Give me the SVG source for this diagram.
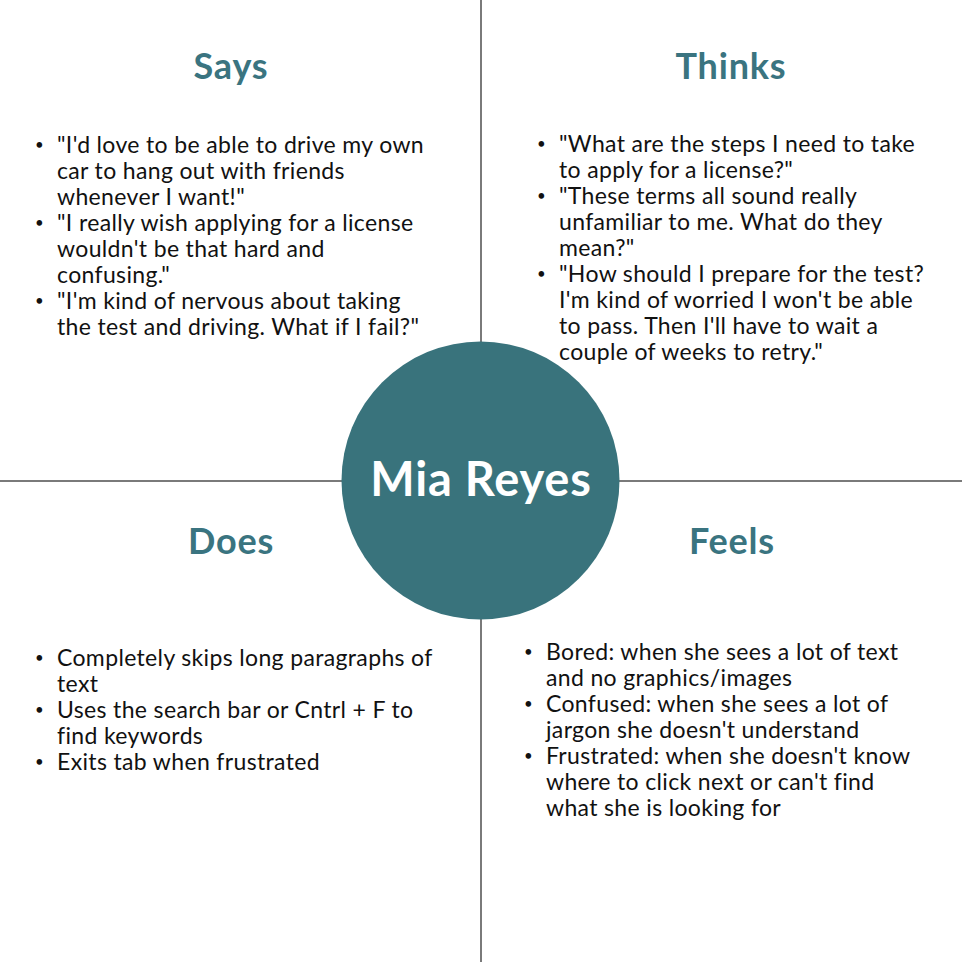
<svg xmlns="http://www.w3.org/2000/svg" width="962" height="962" viewBox="0 0 962 962">
  <style>
    .axis { stroke: #7a7a7a; stroke-width: 2; fill: none; }
    .head { font-family: Lato, "Liberation Sans", sans-serif; font-weight: 700; font-size: 36px; letter-spacing: 0.8px; fill: #3a7480; text-anchor: middle; }
    .body { font-family: Lato, "Liberation Sans", sans-serif; font-size: 23px; letter-spacing: 0.35px; fill: #111111; }
    .dot { font-size: 15px; }
    .name { font-family: Lato, "Liberation Sans", sans-serif; font-weight: 700; font-size: 47px; letter-spacing: 0.8px; fill: #ffffff; text-anchor: middle; }
  </style>
  <rect width="962" height="962" fill="#ffffff"/>

  <!-- quadrant dividers -->
  <g id="connectors">
    <line class="axis" x1="481" y1="0" x2="481" y2="962"/>
    <line class="axis" x1="0" y1="481" x2="962" y2="481"/>
  </g>

  <g id="says">
    <text class="head" x="231" y="79">Says</text>
    <text class="body">
      <tspan class="dot" x="35" y="150">•</tspan><tspan x="57" y="153">"I'd love to be able to drive my own</tspan>
      <tspan x="57" y="179">car to hang out with friends</tspan>
      <tspan x="57" y="205">whenever I want!"</tspan>
      <tspan class="dot" x="35" y="228">•</tspan><tspan x="57" y="231">"I really wish applying for a license</tspan>
      <tspan x="57" y="257">wouldn't be that hard and</tspan>
      <tspan x="57" y="283">confusing."</tspan>
      <tspan class="dot" x="35" y="306">•</tspan><tspan x="57" y="309">"I'm kind of nervous about taking</tspan>
      <tspan x="57" y="335">the test and driving. What if I fail?"</tspan>
    </text>
  </g>

  <g id="thinks">
    <text class="head" x="731" y="79">Thinks</text>
    <text class="body">
      <tspan class="dot" x="537" y="149">•</tspan><tspan x="559" y="152">"What are the steps I need to take</tspan>
      <tspan x="559" y="178">to apply for a license?"</tspan>
      <tspan class="dot" x="537" y="201">•</tspan><tspan x="559" y="204">"These terms all sound really</tspan>
      <tspan x="559" y="230">unfamiliar to me. What do they</tspan>
      <tspan x="559" y="256">mean?"</tspan>
      <tspan class="dot" x="537" y="279">•</tspan><tspan x="559" y="282">"How should I prepare for the test?</tspan>
      <tspan x="559" y="308">I'm kind of worried I won't be able</tspan>
      <tspan x="559" y="334">to pass. Then I'll have to wait a</tspan>
      <tspan x="559" y="360">couple of weeks to retry."</tspan>
    </text>
  </g>

  <g id="does">
    <text class="head" x="231" y="554">Does</text>
    <text class="body">
      <tspan class="dot" x="35" y="663">•</tspan><tspan x="57" y="666">Completely skips long paragraphs of</tspan>
      <tspan x="57" y="692">text</tspan>
      <tspan class="dot" x="35" y="715">•</tspan><tspan x="57" y="718">Uses the search bar or Cntrl + F to</tspan>
      <tspan x="57" y="744">find keywords</tspan>
      <tspan class="dot" x="35" y="767">•</tspan><tspan x="57" y="770">Exits tab when frustrated</tspan>
    </text>
  </g>

  <g id="feels">
    <text class="head" x="732" y="554">Feels</text>
    <text class="body">
      <tspan class="dot" x="524" y="657">•</tspan><tspan x="546" y="660">Bored: when she sees a lot of text</tspan>
      <tspan x="546" y="686">and no graphics/images</tspan>
      <tspan class="dot" x="524" y="709">•</tspan><tspan x="546" y="712">Confused: when she sees a lot of</tspan>
      <tspan x="546" y="738">jargon she doesn't understand</tspan>
      <tspan class="dot" x="524" y="761">•</tspan><tspan x="546" y="764">Frustrated: when she doesn't know</tspan>
      <tspan x="546" y="790">where to click next or can't find</tspan>
      <tspan x="546" y="816">what she is looking for</tspan>
    </text>
  </g>

  <g id="persona">
    <circle cx="480.5" cy="480.5" r="139" fill="#39737c"/>
    <text class="name" x="481" y="496">Mia Reyes</text>
  </g>
</svg>
